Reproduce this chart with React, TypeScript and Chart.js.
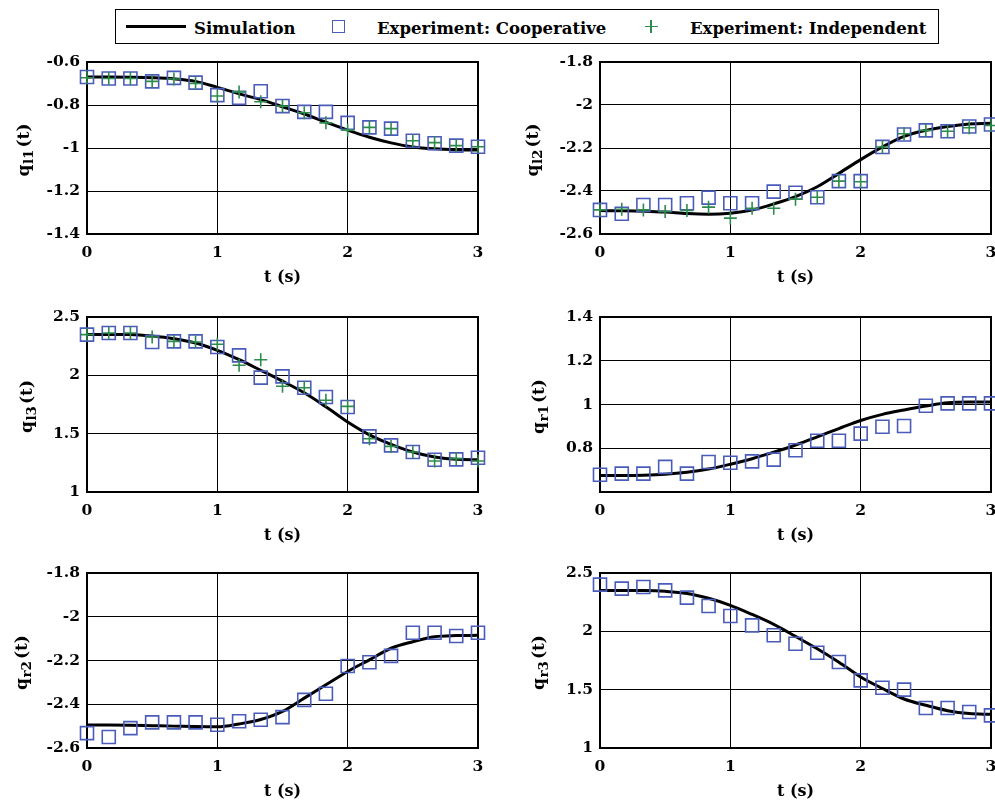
import React, { useEffect, useRef } from 'react';
import { Chart, registerables } from 'chart.js';
Chart.register(...registerables);

const FONT = '"DejaVu Serif", serif';
const BLUE = '#4a5cba';
const GREEN = '#2e8b4e';

// time stamps (s)
const T = [0, 0.167, 0.333, 0.5, 0.667, 0.833, 1, 1.167, 1.333, 1.5, 1.667, 1.833, 2, 2.167, 2.333, 2.5, 2.667, 2.833, 3];

const Q_L1_SIM = [-0.670, -0.670, -0.671, -0.673, -0.678, -0.690, -0.718, -0.748, -0.775, -0.808, -0.842, -0.880, -0.917, -0.950, -0.976, -0.995, -1.004, -1.008, -1.009];
const Q_L1_COOP = [-0.670, -0.677, -0.677, -0.690, -0.674, -0.696, -0.754, -0.767, -0.736, -0.805, -0.832, -0.832, -0.883, -0.904, -0.910, -0.966, -0.978, -0.989, -0.994];
const Q_L1_IND = [-0.673, -0.677, -0.677, -0.690, -0.679, -0.700, -0.758, -0.739, -0.785, -0.805, -0.836, -0.883, -0.917, -0.904, -0.910, -0.966, -0.975, -0.989, -0.994];

const Q_L2_SIM = [-2.491, -2.492, -2.494, -2.498, -2.505, -2.508, -2.503, -2.488, -2.460, -2.426, -2.380, -2.318, -2.254, -2.195, -2.146, -2.118, -2.100, -2.088, -2.085];
const Q_L2_COOP = [-2.488, -2.506, -2.465, -2.465, -2.457, -2.431, -2.457, -2.457, -2.403, -2.408, -2.429, -2.354, -2.354, -2.195, -2.137, -2.118, -2.122, -2.100, -2.091];
const Q_L2_IND = [-2.488, -2.485, -2.488, -2.495, -2.491, -2.475, -2.526, -2.480, -2.480, -2.438, -2.429, -2.354, -2.357, -2.195, -2.134, -2.118, -2.122, -2.106, -2.095];

const Q_L3_SIM = [2.351, 2.351, 2.350, 2.337, 2.314, 2.277, 2.214, 2.134, 2.043, 1.950, 1.850, 1.730, 1.600, 1.490, 1.409, 1.343, 1.300, 1.280, 1.277];
const Q_L3_COOP = [2.349, 2.363, 2.363, 2.286, 2.291, 2.291, 2.243, 2.171, 1.980, 1.991, 1.894, 1.814, 1.729, 1.477, 1.400, 1.343, 1.277, 1.280, 1.294];
const Q_L3_IND = [2.349, 2.363, 2.363, 2.329, 2.291, 2.286, 2.266, 2.086, 2.134, 1.906, 1.894, 1.786, 1.734, 1.457, 1.391, 1.343, 1.266, 1.286, 1.266];

const Q_R1_SIM = [0.676, 0.676, 0.677, 0.681, 0.690, 0.705, 0.727, 0.752, 0.782, 0.815, 0.852, 0.890, 0.927, 0.955, 0.975, 0.993, 1.008, 1.011, 1.011];
const Q_R1_COOP = [0.679, 0.684, 0.684, 0.715, 0.684, 0.737, 0.734, 0.740, 0.748, 0.791, 0.834, 0.834, 0.867, 0.898, 0.902, 0.994, 1.005, 1.005, 1.005];

const Q_R2_SIM = [-2.495, -2.495, -2.496, -2.498, -2.500, -2.502, -2.503, -2.490, -2.470, -2.433, -2.372, -2.311, -2.250, -2.197, -2.144, -2.114, -2.091, -2.086, -2.085];
const Q_R2_COOP = [-2.532, -2.550, -2.509, -2.483, -2.483, -2.483, -2.494, -2.478, -2.471, -2.459, -2.380, -2.352, -2.225, -2.208, -2.179, -2.073, -2.073, -2.088, -2.073];

const Q_R3_SIM = [2.351, 2.351, 2.350, 2.343, 2.325, 2.283, 2.223, 2.145, 2.060, 1.957, 1.850, 1.735, 1.609, 1.510, 1.420, 1.366, 1.320, 1.295, 1.289];
const Q_R3_COOP = [2.400, 2.366, 2.380, 2.351, 2.289, 2.217, 2.131, 2.051, 1.966, 1.894, 1.817, 1.737, 1.580, 1.517, 1.500, 1.343, 1.343, 1.309, 1.280];

const X_TICKS = { min: 0, max: 3, step: 1 };
const X_TITLE = 't (s)';
const LEGEND = ['Simulation', 'Experiment: Cooperative', 'Experiment: Independent'];

type PanelCfg = {
  sub: string;
  col: number;
  row: number;
  yMin: number;
  yMax: number;
  yStep: number;
  hideMin?: boolean;
  titleX: number;
  sim: number[];
  coop: number[];
  indep?: number[];
};

const PANELS: PanelCfg[] = [
  { sub: 'l1', col: 0, row: 0, yMin: -1.4, yMax: -0.6, yStep: 0.2, titleX: 29, sim: Q_L1_SIM, coop: Q_L1_COOP, indep: Q_L1_IND },
  { sub: 'l2', col: 1, row: 0, yMin: -2.6, yMax: -1.8, yStep: 0.2, titleX: 538, sim: Q_L2_SIM, coop: Q_L2_COOP, indep: Q_L2_IND },
  { sub: 'l3', col: 0, row: 1, yMin: 1, yMax: 2.5, yStep: 0.5, titleX: 32, sim: Q_L3_SIM, coop: Q_L3_COOP, indep: Q_L3_IND },
  { sub: 'r1', col: 1, row: 1, yMin: 0.6, yMax: 1.4, yStep: 0.2, hideMin: true, titleX: 544, sim: Q_R1_SIM, coop: Q_R1_COOP },
  { sub: 'r2', col: 0, row: 2, yMin: -2.6, yMax: -1.8, yStep: 0.2, titleX: 27, sim: Q_R2_SIM, coop: Q_R2_COOP },
  { sub: 'r3', col: 1, row: 2, yMin: 1, yMax: 2.5, yStep: 0.5, titleX: 544, sim: Q_R3_SIM, coop: Q_R3_COOP },
];

// layout (page px)
const COL_LEFT = [87, 600];
const AREA_W = 391;
const ROWS = [
  { top: 62, bottom: 234 },
  { top: 317, bottom: 492 },
  { top: 573, bottom: 748 },
];
const Y_AXIS_W = 87;
const X_AXIS_H = 57;
const PAD_TOP = 30;
const CANVAS_W = 495;

function fmt(v: number) {
  return String(Number(v.toFixed(2)));
}

function Panel({ cfg }: { cfg: PanelCfg }) {
  const ref = useRef<HTMLCanvasElement>(null);
  const areaLeft = COL_LEFT[cfg.col];
  const r = ROWS[cfg.row];
  const canvasLeft = areaLeft - Y_AXIS_W;
  const canvasTop = r.top - PAD_TOP;
  const canvasH = r.bottom - r.top + PAD_TOP + X_AXIS_H;
  const padRight = CANVAS_W - Y_AXIS_W - AREA_W;

  useEffect(() => {
    const canvas = ref.current!;
    const tickFont = { family: FONT, size: 15.5, weight: 'bold' as const };
    const datasets: any[] = [];
    if (cfg.indep) {
      datasets.push({
        label: LEGEND[2],
        data: T.map((t, i) => ({ x: t, y: cfg.indep![i] })),
        showLine: false,
        pointStyle: 'cross',
        pointRadius: 6.5,
        pointBorderColor: GREEN,
        pointBorderWidth: 1.6,
        pointBackgroundColor: 'rgba(0,0,0,0)',
        clip: false,
      });
    }
    datasets.push({
      label: LEGEND[1],
      data: T.map((t, i) => ({ x: t, y: cfg.coop[i] })),
      showLine: false,
      pointStyle: 'rect',
      pointRadius: 9.2,
      pointBorderColor: BLUE,
      pointBorderWidth: 1.6,
      pointBackgroundColor: 'rgba(0,0,0,0)',
      clip: false,
    });
    datasets.push({
      label: LEGEND[0],
      data: T.map((t, i) => ({ x: t, y: cfg.sim[i] })),
      borderColor: '#000',
      borderWidth: 3,
      pointRadius: 0,
      cubicInterpolationMode: 'monotone',
      fill: false,
    });

    const framePlugin = {
      id: 'frameAndTitle',
      beforeDatasetsDraw(chart: any) {
        const { ctx, chartArea } = chart;
        const { left, top, right, bottom } = chartArea;
        ctx.save();
        ctx.strokeStyle = '#000';
        ctx.lineWidth = 2;
        ctx.strokeRect(left, top, right - left, bottom - top);
        ctx.restore();
      },
      afterDraw(chart: any) {
        const { ctx, chartArea } = chart;
        const cy = (chartArea.top + chartArea.bottom) / 2 + 2;
        const bx = cfg.titleX - canvasLeft;
        const main = `bold 17px ${FONT}`;
        const sub = `bold 13.5px ${FONT}`;
        ctx.save();
        ctx.translate(bx, cy);
        ctx.rotate(-Math.PI / 2);
        ctx.fillStyle = '#000';
        ctx.textBaseline = 'alphabetic';
        ctx.textAlign = 'left';
        ctx.font = main;
        const wq = ctx.measureText('q').width;
        const wt = ctx.measureText('(t)').width;
        ctx.font = sub;
        const ws = ctx.measureText(cfg.sub).width;
        const total = wq + ws + wt + 2.5;
        let x = -total / 2;
        ctx.font = main;
        ctx.fillText('q', x, 0);
        x += wq + 0.5;
        ctx.font = sub;
        ctx.fillText(cfg.sub, x, 4);
        x += ws + 2;
        ctx.font = main;
        ctx.fillText('(t)', x, 0);
        ctx.restore();
      },
    };

    const chart = new Chart(canvas, {
      type: 'line',
      data: { datasets },
      options: {
        animation: false,
        responsive: false,
        events: [],
        layout: { padding: { left: 0, top: PAD_TOP, right: padRight, bottom: 0 } },
        plugins: { legend: { display: false }, tooltip: { enabled: false } },
        scales: {
          x: {
            type: 'linear',
            min: X_TICKS.min,
            max: X_TICKS.max,
            ticks: { stepSize: X_TICKS.step, font: tickFont, color: '#000', padding: 10, maxRotation: 0, callback: (v: any) => fmt(Number(v)) },
            grid: { color: '#000', lineWidth: 1, drawTicks: false },
            border: { display: false },
            title: { display: true, text: X_TITLE, font: { family: FONT, size: 16, weight: 'bold' }, color: '#000', padding: { top: 4, bottom: 4 } },
            afterFit: (s: any) => { s.height = X_AXIS_H; },
          },
          y: {
            type: 'linear',
            min: cfg.yMin,
            max: cfg.yMax,
            ticks: {
              stepSize: cfg.yStep,
              font: tickFont,
              color: '#000',
              padding: 7,
              callback: (v: any) => (cfg.hideMin && Math.abs(Number(v) - cfg.yMin) < 1e-9 ? '' : fmt(Number(v))),
            },
            grid: { color: '#000', lineWidth: 1, drawTicks: false },
            border: { display: false },
            afterFit: (s: any) => { s.width = Y_AXIS_W; },
          },
        },
      } as any,
      plugins: [framePlugin],
    });
    return () => chart.destroy();
  }, []);

  return (
    <canvas
      ref={ref}
      width={CANVAS_W}
      height={canvasH}
      style={{ position: 'absolute', left: canvasLeft, top: canvasTop, width: CANVAS_W, height: canvasH }}
    />
  );
}

function Legend() {
  const txt: React.CSSProperties = {
    position: 'absolute',
    top: 19,
    font: `bold 16.5px ${FONT}`,
    lineHeight: '20px',
    whiteSpace: 'nowrap',
    color: '#000',
  };
  return (
    <>
      <div style={{ position: 'absolute', left: 115, top: 9, width: 824, height: 35, border: '1.5px solid #000', boxSizing: 'border-box', background: '#fff' }} />
      <div style={{ position: 'absolute', left: 126, top: 25, width: 60, height: 3, background: '#000' }} />
      <span style={{ ...txt, left: 194 }}>{LEGEND[0]}</span>
      <div style={{ position: 'absolute', left: 332, top: 20, width: 13, height: 13, border: `1.5px solid ${BLUE}`, boxSizing: 'border-box' }} />
      <span style={{ ...txt, left: 377 }}>{LEGEND[1]}</span>
      <div style={{ position: 'absolute', left: 644.5, top: 25.5, width: 13, height: 1.6, background: GREEN }} />
      <div style={{ position: 'absolute', left: 650.2, top: 19.5, width: 1.6, height: 13, background: GREEN }} />
      <span style={{ ...txt, left: 690 }}>{LEGEND[2]}</span>
    </>
  );
}

export default function App() {
  return (
    <div style={{ position: 'absolute', left: 0, top: 0, width: 995, height: 803, overflow: 'hidden', background: '#fff' }}>
      {PANELS.map((p, i) => (
        <Panel key={i} cfg={p} />
      ))}
      <Legend />
    </div>
  );
}
